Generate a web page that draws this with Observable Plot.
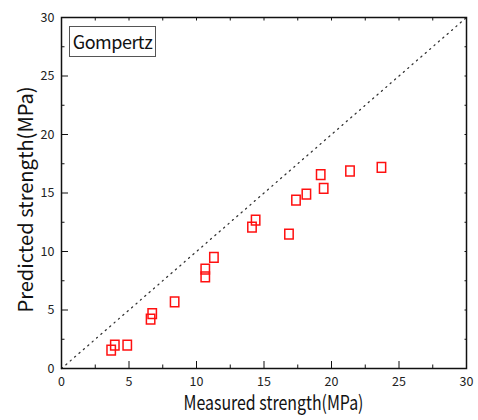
<!DOCTYPE html>
<html><head><meta charset="utf-8">
<script src="https://cdn.jsdelivr.net/npm/d3@7"></script>
<script src="https://cdn.jsdelivr.net/npm/@observablehq/plot@0.6"></script>
<style>
body{margin:0;background:#fff;}
#wrap{position:relative;width:478px;height:420px;}
#legend{position:absolute;left:69px;top:26px;width:87px;height:31px;border:1px solid #555;box-sizing:border-box;
 font-family:"Noto Sans CJK KR","Noto Sans",sans-serif;font-size:18px;line-height:29px;text-align:center;color:#111;letter-spacing:-0.5px;}
</style>
</head><body><div id="wrap"></div>
<script>
const measured  = [3.68, 3.95, 4.87, 6.60, 6.72, 8.38, 10.65, 10.65, 11.29, 14.11, 14.38, 16.85, 17.37, 18.14, 19.20, 19.42, 21.37, 23.70];
const predicted = [1.58, 1.99, 1.99, 4.21, 4.69, 5.69, 7.83, 8.49, 9.49, 12.09, 12.69, 11.49, 14.40, 14.91, 16.57, 15.39, 16.88, 17.19];
const legendLabel = "Gompertz";
const xTitle = "Measured strength(MPa)";
const yTitle = "Predicted strength(MPa)";
const majorTicks = [0, 5, 10, 15, 20, 25, 30];
const minorTicks = [2.5, 7.5, 12.5, 17.5, 22.5, 27.5];
const allTicks = [0, 2.5, 5, 7.5, 10, 12.5, 15, 17.5, 20, 22.5, 25, 27.5, 30];
const identity = [0, 30];

const points = measured.map((m, i) => ({m, p: predicted[i]}));

// unfilled rectangle symbol (slightly taller than wide, as in the reference)
const rectSymbol = {
  draw(ctx, size) {
    const h = Math.sqrt(size) * 1.08, w = h * 0.86;
    ctx.moveTo(-w/2, -h/2); ctx.lineTo(w/2, -h/2); ctx.lineTo(w/2, h/2); ctx.lineTo(-w/2, h/2); ctx.closePath();
  }
};

const font = "'Noto Sans CJK KR','Noto Sans',sans-serif";

const chart = Plot.plot({
  width: 478, height: 420,
  marginLeft: 61, marginRight: 12, marginTop: 17, marginBottom: 52,
  style: {fontFamily: font, fontSize: "12.5px", color: "#222", background: "#fff"},
  x: {domain: [0, 30]},
  y: {domain: [0, 30]},
  marks: [
    Plot.line(identity, {x: d => d, y: d => d, stroke: "#333", strokeWidth: 1.3, strokeDasharray: "1.2,4.6"}),
    Plot.dot(points, {x: "m", y: "p", symbol: rectSymbol, r: 5.1, stroke: "#ff1010", strokeWidth: 1.5, fill: "none"}),
    Plot.axisX({anchor: "bottom", ticks: majorTicks, tickSize: -7, tickPadding: 16, label: null, stroke: "#111", fill: "#222", fontSize: 12.5}),
    Plot.axisX({anchor: "bottom", ticks: minorTicks, tickSize: -3.5, label: null, stroke: "#111", fill: "none"}),
    Plot.axisX({anchor: "top", ticks: allTicks, tickSize: -2.5, label: null, stroke: "#111", fill: "none"}),
    Plot.axisY({anchor: "left", ticks: majorTicks, tickSize: -7, tickPadding: 14, label: null, stroke: "#111", fill: "#222", fontSize: 12.5}),
    Plot.axisY({anchor: "left", ticks: minorTicks, tickSize: -3.5, label: null, stroke: "#111", fill: "none"}),
    Plot.axisY({anchor: "right", ticks: allTicks, tickSize: -2.5, label: null, stroke: "#111", fill: "none"}),
    Plot.frame({stroke: "#111", strokeWidth: 1.5}),
    Plot.text([xTitle], {frameAnchor: "bottom", dx: 9.5, dy: 41.5, fontSize: 20, fill: "#111", text: d => d, className: "xtitle"}),
    Plot.text([yTitle], {frameAnchor: "left", dx: -34.5, dy: 119.5, rotate: -90, textAnchor: "start", fontSize: 20, fill: "#111", text: d => d, className: "ytitle"})
  ]
});
// compress the titles to the narrow width of the reference font
chart.querySelectorAll(".xtitle text").forEach(t => { t.setAttribute("textLength", 180); t.setAttribute("lengthAdjust", "spacingAndGlyphs"); });
chart.querySelectorAll(".ytitle text").forEach(t => { t.setAttribute("textLength", 226); t.setAttribute("lengthAdjust", "spacingAndGlyphs"); });
const wrap = document.getElementById("wrap");
wrap.appendChild(chart);
const lg = document.createElement("div");
lg.id = "legend";
lg.textContent = legendLabel;
wrap.appendChild(lg);
</script>
</body></html>
